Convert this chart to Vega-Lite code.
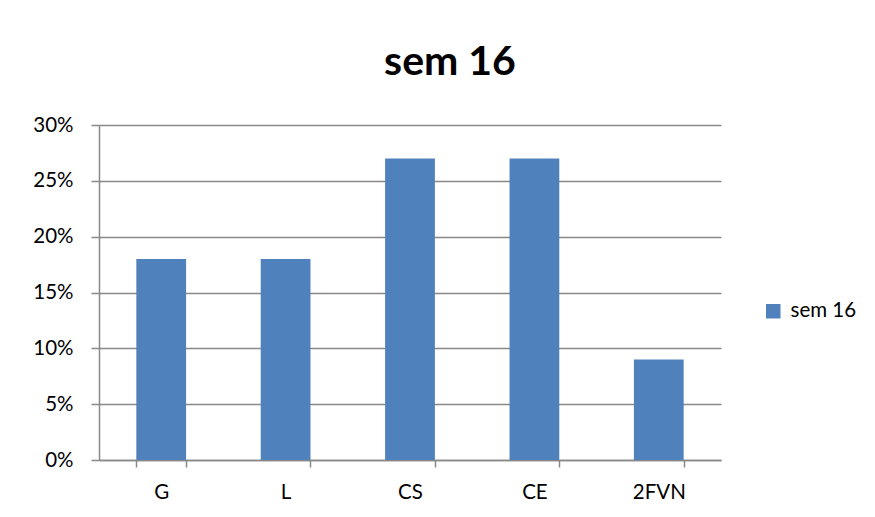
{
  "$schema": "https://vega.github.io/schema/vega-lite/v6.json",
  "autosize": {"type": "none"},
  "width": 622,
  "height": 335,
  "padding": {"left": 99, "top": 125, "right": 154, "bottom": 57},
  "background": "white",
  "config": {
    "view": {"stroke": null},
    "font": "Lato",
    "axis": {"labelFont": "Lato", "labelFontSize": 20.5, "labelColor": "#000000", "domainColor": "#898989", "tickColor": "#898989", "gridColor": "#898989", "domainWidth": 1.5, "tickWidth": 1.5, "gridWidth": 1.3},
    "legend": {"labelFont": "Lato", "labelFontSize": 20.5, "labelColor": "#000000"}
  },
  "title": {"text": "sem 16", "font": "Lato", "fontSize": 41, "fontWeight": "bold", "color": "#000000", "anchor": "middle", "dx": 40, "offset": 31},
  "data": {"values": [
    {"cat": "G", "value": 0.18, "series": "sem 16"},
    {"cat": "L", "value": 0.18, "series": "sem 16"},
    {"cat": "CS", "value": 0.27, "series": "sem 16"},
    {"cat": "CE", "value": 0.27, "series": "sem 16"},
    {"cat": "2FVN", "value": 0.09, "series": "sem 16"}
  ]},
  "mark": {"type": "bar"},
  "encoding": {
    "x": {"field": "cat", "type": "nominal", "sort": null, "title": null,
      "scale": {"paddingInner": 0.6, "paddingOuter": 0.3},
      "axis": {"labelAngle": 0, "tickBand": "extent", "tickSize": 7, "labelPadding": 15, "grid": false}},
    "y": {"field": "value", "type": "quantitative", "title": null,
      "scale": {"domain": [0, 0.3]},
      "axis": {"format": ".0%", "values": [0, 0.05, 0.1, 0.15, 0.2, 0.25, 0.3], "tickSize": 8, "labelPadding": 18, "grid": true}},
    "color": {"field": "series", "type": "nominal", "scale": {"range": ["#4F81BD"]},
      "legend": {"title": null, "orient": "none", "legendX": 664, "legendY": 176, "symbolType": "square", "symbolSize": 210, "symbolStrokeWidth": 0, "labelOffset": 7}}
  }
}
